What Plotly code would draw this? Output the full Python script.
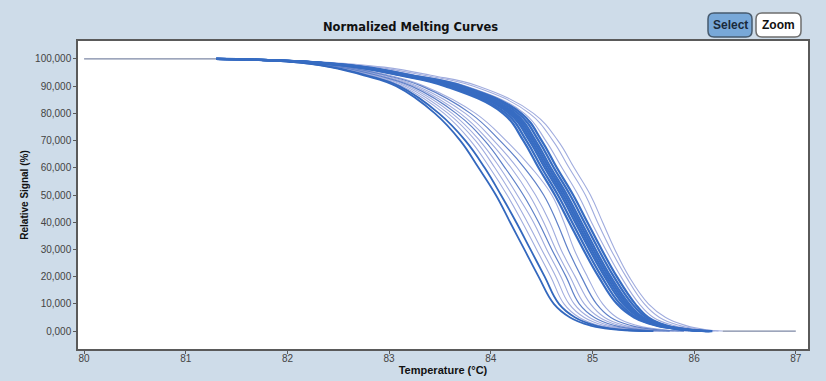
import plotly.graph_objects as go

# Signal levels (%) at which each curve's temperature was read
LEVELS = [100, 99, 97, 94, 90, 80, 70, 60, 50, 40, 30, 20, 10, 5, 2, 1, 0.3, 0]
T_START, T_END = 80.0, 87.0

# Temperatures (°C) where each curve crosses the LEVELS above
main_curves = [
    [81.3, 82.12, 82.67, 83.10, 83.55, 84.12, 84.32, 84.47, 84.63, 84.77, 84.91, 85.06, 85.24, 85.41, 85.63, 85.78, 85.94, 86.12],
    [81.3, 82.13, 82.69, 83.12, 83.58, 84.15, 84.35, 84.50, 84.66, 84.80, 84.94, 85.09, 85.27, 85.43, 85.64, 85.79, 85.96, 86.13],
    [81.3, 82.14, 82.70, 83.14, 83.61, 84.18, 84.38, 84.53, 84.69, 84.83, 84.97, 85.12, 85.30, 85.46, 85.66, 85.81, 85.97, 86.14],
    [81.3, 82.15, 82.71, 83.15, 83.63, 84.20, 84.40, 84.55, 84.71, 84.85, 84.99, 85.14, 85.32, 85.47, 85.67, 85.82, 85.98, 86.15],
    [81.3, 82.15, 82.73, 83.17, 83.65, 84.22, 84.42, 84.57, 84.73, 84.87, 85.01, 85.16, 85.34, 85.49, 85.69, 85.82, 85.98, 86.15],
    [81.3, 82.16, 82.74, 83.18, 83.67, 84.24, 84.44, 84.59, 84.75, 84.89, 85.03, 85.18, 85.36, 85.50, 85.70, 85.83, 85.99, 86.16],
    [81.3, 82.17, 82.75, 83.20, 83.70, 84.27, 84.47, 84.62, 84.78, 84.92, 85.06, 85.21, 85.39, 85.53, 85.72, 85.85, 86.00, 86.17],
    [81.3, 82.18, 82.77, 83.22, 83.73, 84.30, 84.50, 84.65, 84.81, 84.95, 85.09, 85.24, 85.42, 85.55, 85.73, 85.86, 86.02, 86.18],
]
right_curves = [
    [81.3, 82.20, 82.80, 83.26, 83.76, 84.33, 84.54, 84.70, 84.86, 84.99, 85.13, 85.28, 85.46, 85.60, 85.80, 85.93, 86.07, 86.20],
    [81.3, 82.25, 82.88, 83.34, 83.83, 84.38, 84.61, 84.77, 84.93, 85.05, 85.18, 85.33, 85.51, 85.66, 85.86, 85.99, 86.12, 86.24],
    [81.3, 82.30, 82.95, 83.41, 83.88, 84.42, 84.66, 84.82, 84.98, 85.10, 85.22, 85.36, 85.55, 85.72, 85.92, 86.04, 86.16, 86.28],
]
left_dark_curves = [
    [81.3, 82.00, 82.42, 82.75, 83.07, 83.45, 83.70, 83.88, 84.05, 84.19, 84.33, 84.47, 84.62, 84.78, 84.98, 85.12, 85.32, 85.55],
    [81.3, 82.01, 82.44, 82.78, 83.10, 83.49, 83.75, 83.94, 84.10, 84.25, 84.39, 84.53, 84.67, 84.83, 85.03, 85.17, 85.37, 85.60],
]
left_mid_curves = [
    [81.3, 82.05, 82.52, 82.88, 83.22, 83.66, 83.94, 84.14, 84.32, 84.47, 84.60, 84.74, 84.87, 85.02, 85.22, 85.36, 85.55, 85.76],
    [81.3, 82.08, 82.58, 82.97, 83.32, 83.80, 84.09, 84.33, 84.52, 84.65, 84.76, 84.89, 85.04, 85.18, 85.38, 85.52, 85.70, 85.90],
]
left_light_curves = [
    [81.3, 82.02, 82.46, 82.81, 83.13, 83.54, 83.80, 83.99, 84.16, 84.31, 84.45, 84.59, 84.72, 84.87, 85.07, 85.21, 85.41, 85.63],
    [81.3, 82.03, 82.48, 82.83, 83.16, 83.58, 83.85, 84.04, 84.21, 84.36, 84.50, 84.64, 84.77, 84.92, 85.12, 85.26, 85.45, 85.67],
    [81.3, 82.04, 82.50, 82.86, 83.19, 83.62, 83.89, 84.09, 84.26, 84.42, 84.55, 84.69, 84.82, 84.97, 85.17, 85.31, 85.50, 85.71],
    [81.3, 82.06, 82.54, 82.91, 83.25, 83.70, 83.98, 84.20, 84.38, 84.52, 84.64, 84.78, 84.92, 85.07, 85.27, 85.41, 85.60, 85.80],
    [81.3, 82.07, 82.56, 82.94, 83.28, 83.75, 84.03, 84.26, 84.44, 84.58, 84.69, 84.83, 84.98, 85.12, 85.32, 85.46, 85.65, 85.85],
    [81.3, 82.10, 82.60, 83.00, 83.35, 83.85, 84.15, 84.40, 84.60, 84.72, 84.82, 84.95, 85.10, 85.24, 85.44, 85.58, 85.76, 85.95],
]

Y_TICKS = [0, 10, 20, 30, 40, 50, 60, 70, 80, 90, 100]
Y_TICK_TEXT = ["0,000", "10,000", "20,000", "30,000", "40,000", "50,000",
               "60,000", "70,000", "80,000", "90,000", "100,000"]
X_TICKS = [80, 81, 82, 83, 84, 85, 86, 87]

all_curves = main_curves + right_curves + left_dark_curves + left_mid_curves + left_light_curves

fig = go.Figure()

# flat baseline before melting starts and after it ends
fig.add_trace(go.Scatter(
    x=[T_START, min(c[0] for c in all_curves), None, max(c[-1] for c in all_curves), T_END],
    y=[LEVELS[0], LEVELS[0], None, LEVELS[-1], LEVELS[-1]],
    mode="lines", line=dict(color="rgb(125,135,165)", width=1.2),
    hoverinfo="skip", showlegend=False, connectgaps=False))

def add_group(curves, color, width):
    for c in curves:
        fig.add_trace(go.Scatter(
            x=c, y=LEVELS, mode="lines",
            line=dict(color=color, width=width, shape="spline", smoothing=1.2),
            hoverinfo="skip", showlegend=False))

add_group(left_light_curves, "rgb(160,172,222)", 1.1)
add_group(right_curves, "rgb(160,172,222)", 1.1)
add_group(left_mid_curves, "rgb(95,128,200)", 1.2)
add_group(left_dark_curves, "rgb(52,104,190)", 1.8)
add_group(main_curves, "rgb(55,108,194)", 2.2)

W, H = 826, 381
L, R, T, B = 78, 18, 41, 32
pw, ph = W - L - R, H - T - B

def px(x):
    return (x - L) / pw

def py(y):
    return (H - B - y) / ph

def rounded(x0, y0, x1, y1, r):
    X0, X1 = px(x0), px(x1)
    Y0, Y1 = py(y0), py(y1)
    rx, ry = r / pw, r / ph
    return (f"M {X0+rx},{Y0} L {X1-rx},{Y0} Q {X1},{Y0} {X1},{Y0-ry} "
            f"L {X1},{Y1+ry} Q {X1},{Y1} {X1-rx},{Y1} L {X0+rx},{Y1} "
            f"Q {X0},{Y1} {X0},{Y1+ry} L {X0},{Y0-ry} Q {X0},{Y0} {X0+rx},{Y0} Z")

shapes = [
    dict(type="path", xref="paper", yref="paper", path=rounded(708, 13, 752, 37, 6),
         fillcolor="rgb(120,168,216)", line=dict(color="rgb(70,90,110)", width=1.5)),
    dict(type="path", xref="paper", yref="paper", path=rounded(756, 13, 801, 37, 6),
         fillcolor="white", line=dict(color="rgb(110,110,110)", width=1.5)),
]

annotations = [
    dict(text="<b>Normalized Melting Curves</b>", x=px(410), y=py(27), xref="paper", yref="paper",
         xanchor="center", yanchor="middle", showarrow=False,
         font=dict(family="DejaVu Sans", size=11.5, color="#111")),
    dict(text="<b>Select</b>", x=px(730), y=py(25), xref="paper", yref="paper",
         xanchor="center", yanchor="middle", showarrow=False,
         font=dict(family="Liberation Sans", size=12, color="#1a2a3a")),
    dict(text="<b>Zoom</b>", x=px(778.5), y=py(25), xref="paper", yref="paper",
         xanchor="center", yanchor="middle", showarrow=False,
         font=dict(family="Liberation Sans", size=12, color="#111")),
]

fig.update_layout(
    width=W, height=H,
    margin=dict(l=L, r=R, t=T, b=B),
    paper_bgcolor="rgb(206,220,233)",
    plot_bgcolor="white",
    shapes=shapes,
    annotations=annotations,
    font=dict(family="Liberation Sans", size=10, color="#333"),
    xaxis=dict(range=[79.94, 87.12], tickvals=X_TICKS, ticktext=[str(v) for v in X_TICKS],
               showgrid=False, zeroline=False, showline=True, mirror=True,
               linecolor="rgb(90,90,90)", linewidth=1.5, automargin=False,
               ticks="outside", ticklen=3, tickcolor="rgb(90,90,90)",
               ticklabelstandoff=-4,
               tickfont=dict(size=10, color="#444"),
               title=dict(text="<b>Temperature (°C)</b>", standoff=2,
                          font=dict(family="Liberation Sans", size=11, color="#111"))),
    yaxis=dict(range=[-6.6, 106.6], tickvals=Y_TICKS, ticktext=Y_TICK_TEXT,
               showgrid=False, zeroline=False, showline=True, mirror=True,
               linecolor="rgb(90,90,90)", linewidth=1.5, automargin=False,
               ticks="outside", ticklen=3, tickcolor="rgb(90,90,90)",
               tickfont=dict(size=10, color="#444"),
               title=dict(text="<b>Relative Signal (%)</b>", standoff=5,
                          font=dict(family="Liberation Sans", size=10, color="#111"))),
)

fig.write_html("out.html")
